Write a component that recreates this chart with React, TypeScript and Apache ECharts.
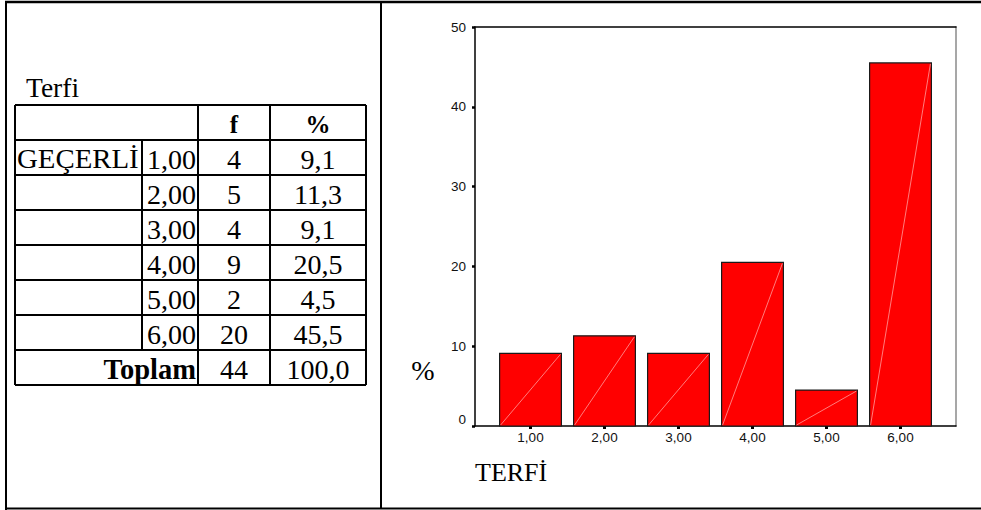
import React, { useEffect, useRef } from "react";
import * as echarts from "echarts";

const categories = ["1,00", "2,00", "3,00", "4,00", "5,00", "6,00"];
const categoryValues = [1, 2, 3, 4, 5, 6];
const frequencies = ["4", "5", "4", "9", "2", "20"];
const percentLabels = ["9,1", "11,3", "9,1", "20,5", "4,5", "45,5"];
const percents = [9.1, 11.3, 9.1, 20.5, 4.5, 45.5];
const totalFreq = "44";
const totalPct = "100,0";
const tableTitle = "Terfi";
const validLabel = "GEÇERLİ";
const totalLabel = "Toplam";
const headerF = "f";
const headerPct = "%";
const yAxisName = "%";
const xAxisName = "TERFİ";

const SERIF = "'Times New Roman', 'Liberation Serif', serif";
const SANS = "Arial, 'Liberation Sans', sans-serif";

function buildTable(): any[] {
  const els: any[] = [];
  const line = (x1: number, y1: number, x2: number, y2: number, w = 2) =>
    els.push({ type: "line", silent: true, shape: { x1, y1, x2, y2 }, style: { stroke: "#000", lineWidth: w } });
  const text = (t: string, x: number, y: number, opts: any = {}) =>
    els.push({
      type: "text",
      x,
      y,
      silent: true,
      scaleX: opts.scaleX || 1,
      style: {
        text: t,
        fontFamily: SERIF,
        fontSize: opts.size || 28,
        fontWeight: opts.weight || "normal",
        fill: "#000",
        align: opts.align || "center",
        verticalAlign: "middle",
      },
    });

  // outer page frame
  line(5, 2, 981, 2, 2.5);
  line(6, 1, 6, 510, 2);
  line(5, 508.5, 981, 508.5, 2);
  line(381, 1, 381, 509, 2);

  // table
  const L = 15, C1 = 142, C2 = 198, C3 = 270, R = 366;
  const top = 105, rowH = 35;
  const nRows = 2 + categories.length;
  const bottom = top + nRows * rowH;
  for (let i = 0; i <= nRows; i++) line(L, top + i * rowH, R, top + i * rowH);
  line(L, top, L, bottom);
  line(R, top, R, bottom);
  line(C2, top, C2, bottom);
  line(C3, top, C3, bottom);
  line(C1, top + rowH, C1, top + rowH * (1 + categories.length));

  text(tableTitle, 26, 87.5, { align: "left", size: 27.5 });
  text(headerF, 234, top + 19, { weight: "bold", size: 25 });
  text(headerPct, 318, top + 19, { weight: "bold", size: 25 });
  categories.forEach((c, i) => {
    const y = top + rowH * (i + 1) + 19;
    if (i === 0) text(validLabel, 17, y, { align: "left", scaleX: 1.03 });
    text(c, 196, y, { align: "right" });
    text(frequencies[i], 234, y);
    text(percentLabels[i], 318, y);
  });
  const ty = top + rowH * (categories.length + 1) + 19;
  text(totalLabel, 196, ty, { align: "right", weight: "bold", size: 28.5 });
  text(totalFreq, 234, ty);
  text(totalPct, 318, ty);

  // chart axis names
  text(yAxisName, 423, 370.5, { size: 28 });
  text(xAxisName, 475, 472.5, { align: "left", size: 26 });
  return els;
}

export default function App() {
  const ref = useRef<HTMLDivElement>(null);
  useEffect(() => {
    if (!ref.current) return;
    const chart = echarts.init(ref.current, null, { renderer: "svg" });
    const data = categoryValues.map((v, i) => [v, percents[i]]);
    chart.setOption({
      animation: false,
      backgroundColor: "#fff",
      grid: { left: 475, right: 25, top: 27, bottom: 84, containLabel: false },
      xAxis: [
        {
          type: "value",
          min: 0.25,
          max: 6.75,
          splitLine: { show: false },
          axisLine: { show: true, lineStyle: { color: "#000", width: 1.5 } },
          axisTick: { show: true, customValues: categoryValues, length: 3, lineStyle: { color: "#000", width: 3 } },
          axisLabel: {
            customValues: categoryValues,
            formatter: (v: number) => categories[Math.round(v) - 1] ?? "",
            fontFamily: SANS,
            fontSize: 13.5,
            color: "#111",
            margin: 4,
          },
        },
        {
          type: "value",
          position: "top",
          min: 0.25,
          max: 6.75,
          splitLine: { show: false },
          axisLine: { show: true, onZero: false, lineStyle: { color: "#000", width: 1.5 } },
          axisTick: { show: false },
          axisLabel: { show: false },
        },
      ],
      yAxis: [
        {
          type: "value",
          min: 0,
          max: 50,
          interval: 10,
          splitLine: { show: false },
          axisLine: { show: true, lineStyle: { color: "#000", width: 1.5 } },
          axisTick: { show: true, length: 3, lineStyle: { color: "#000", width: 2.5 } },
          axisLabel: {
            fontFamily: SANS,
            fontSize: 13.5,
            color: "#111",
            margin: 9,
            verticalAlignMinLabel: "bottom",
          },
        },
        {
          type: "value",
          position: "right",
          min: 0,
          max: 50,
          interval: 10,
          splitLine: { show: false },
          axisLine: { show: true, lineStyle: { color: "#8a8a8a", width: 1.5 } },
          axisTick: { show: false },
          axisLabel: { show: false },
        },
      ],
      series: [
        {
          type: "custom",
          xAxisIndex: 0,
          yAxisIndex: 0,
          encode: { x: 0, y: 1 },
          data,
          renderItem: (params: any, api: any) => {
            const x = api.value(0);
            const y = api.value(1);
            const topPt = api.coord([x, y]);
            const basePt = api.coord([x, 0]);
            const w = api.size([1, 0])[0] * 0.835;
            const x0 = topPt[0] - w / 2;
            return {
              type: "group",
              children: [
                {
                  type: "rect",
                  shape: { x: x0, y: topPt[1], width: w, height: basePt[1] - topPt[1] },
                  style: { fill: "#ff0000", stroke: "#1a1a1a", lineWidth: 1.2 },
                },
                {
                  type: "line",
                  shape: { x1: x0 + 1, y1: basePt[1] - 1, x2: x0 + w - 1, y2: topPt[1] + 1 },
                  style: { stroke: "#ff9c9c", lineWidth: 0.8 },
                },
              ],
            };
          },
        },
      ],
      graphic: buildTable(),
    });
    return () => chart.dispose();
  }, []);
  return (
    <div
      ref={ref}
      style={{ position: "fixed", left: 0, top: 0, width: 981, height: 510, background: "#fff" }}
    />
  );
}
